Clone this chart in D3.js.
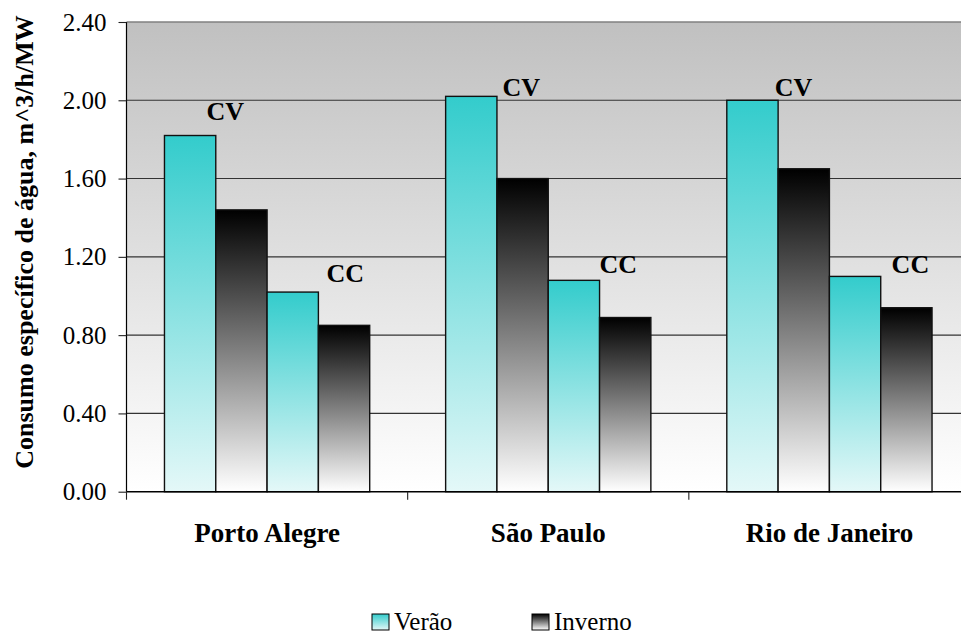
<!DOCTYPE html>
<html>
<head>
<meta charset="utf-8">
<script src="https://cdn.jsdelivr.net/npm/d3@7"></script>
<style>
html,body{margin:0;padding:0;background:#fff;}
svg{display:block;}
</style>
</head>
<body>
<svg id="chart" width="961" height="634"></svg>
<script>
// ---- data ----
const categories = ["Porto Alegre", "São Paulo", "Rio de Janeiro"];
const cvVerao   = [1.82, 2.02, 2.00];
const cvInverno = [1.44, 1.60, 1.65];
const ccVerao   = [1.02, 1.08, 1.10];
const ccInverno = [0.85, 0.89, 0.94];
const yTicks = [0.0, 0.4, 0.8, 1.2, 1.6, 2.0, 2.4];
const seriesNames = ["Verão", "Inverno"];
const yTitle = "Consumo específico de água, m^3/h/MW";
// annotation labels: text, category index, position within band (fraction), value
const annText = ["CV", "CC", "CV", "CC", "CV", "CC"];
const annCat  = [0, 0, 1, 1, 2, 2];
const annFrac = [0.351, 0.778, 0.404, 0.749, 0.372, 0.788];
const annVal  = [1.90, 1.07, 2.02, 1.12, 2.02, 1.12];

(function () {
const FONT = '"Liberation Serif", "Times New Roman", Tinos, serif';
const svg = d3.select("#chart");
const pL = 126.5, pR = 970, pT = 22, pB = 491.7;

const x = d3.scaleBand().domain(categories).range([pL, pR]).paddingInner(0).paddingOuter(0);
const slots = ["CV-Verão", "CV-Inverno", "CC-Verão", "CC-Inverno"];
const xs = d3.scaleBand().domain(slots).range([0, x.bandwidth()]).paddingInner(0).paddingOuter(0.74);
const y = d3.scaleLinear().domain([0, 2.4]).range([pB, pT]);

const defs = svg.append("defs");
const bg = defs.append("linearGradient").attr("id", "bgGrad").attr("x1", 0).attr("y1", 0).attr("x2", 0).attr("y2", 1);
bg.append("stop").attr("offset", "0%").attr("stop-color", "#c0c0c0");
bg.append("stop").attr("offset", "100%").attr("stop-color", "#ffffff");
const gV = defs.append("linearGradient").attr("id", "gVerao").attr("x1", 0).attr("y1", 0).attr("x2", 0).attr("y2", 1);
gV.append("stop").attr("offset", "0%").attr("stop-color", "#33cccc");
gV.append("stop").attr("offset", "100%").attr("stop-color", "#e4f8f8");
const gI = defs.append("linearGradient").attr("id", "gInverno").attr("x1", 0).attr("y1", 0).attr("x2", 0).attr("y2", 1);
gI.append("stop").attr("offset", "0%").attr("stop-color", "#000000");
gI.append("stop").attr("offset", "100%").attr("stop-color", "#ffffff");

// plot background
svg.append("rect").attr("x", pL).attr("y", pT).attr("width", pR - pL).attr("height", pB - pT)
  .attr("fill", "url(#bgGrad)");

// gridlines
svg.append("g").selectAll("line").data(yTicks.filter(d => d > 0)).join("line")
  .attr("x1", pL).attr("x2", pR)
  .attr("y1", d => y(d)).attr("y2", d => y(d))
  .attr("stroke", d => d === 2.4 ? "#808080" : "#333").attr("stroke-width", d => d === 2.4 ? 1.6 : 1.1);

// bars
const barData = [];
categories.forEach((c, i) => {
  barData.push({c, slot: "CV-Verão", v: cvVerao[i], s: 0});
  barData.push({c, slot: "CV-Inverno", v: cvInverno[i], s: 1});
  barData.push({c, slot: "CC-Verão", v: ccVerao[i], s: 0});
  barData.push({c, slot: "CC-Inverno", v: ccInverno[i], s: 1});
});
svg.append("g").selectAll("rect").data(barData).join("rect")
  .attr("x", d => x(d.c) + xs(d.slot))
  .attr("y", d => y(d.v))
  .attr("width", xs.bandwidth())
  .attr("height", d => y(0) - y(d.v))
  .attr("fill", d => d.s === 0 ? "url(#gVerao)" : "url(#gInverno)")
  .attr("stroke", "#111").attr("stroke-width", 1.4);

// y axis
const yAxis = d3.axisLeft(y).tickValues(yTicks).tickFormat(d3.format(".2f")).tickSize(8).tickPadding(12);
const ya = svg.append("g").attr("transform", `translate(${pL},0)`).call(yAxis);
ya.select(".domain").attr("stroke", "#000").attr("stroke-width", 1.2).attr("d", `M0,${pT}V${pB}`);
ya.selectAll(".tick line").attr("stroke", "#222").attr("stroke-width", 1.1);
ya.selectAll(".tick text").style("font-family", FONT).style("font-size", "25px").attr("fill", "#000");

// x axis
svg.append("line").attr("x1", pL).attr("x2", pR).attr("y1", pB).attr("y2", pB)
  .attr("stroke", "#000").attr("stroke-width", 1.5);
const bounds = categories.map(c => x(c)).concat([pR]);
svg.append("g").selectAll("line").data(bounds).join("line")
  .attr("x1", d => d).attr("x2", d => d).attr("y1", pB).attr("y2", pB + 8)
  .attr("stroke", "#222").attr("stroke-width", 1.1);
svg.append("g").selectAll("text").data(categories).join("text")
  .attr("x", d => x(d) + x.bandwidth() / 2).attr("y", 541.7)
  .attr("text-anchor", "middle")
  .style("font-family", FONT).style("font-size", "27px").style("font-weight", "bold")
  .text(d => d);

// annotations
svg.append("g").selectAll("text").data(annText.map((t, i) => ({t, i}))).join("text")
  .attr("x", d => x(categories[annCat[d.i]]) + annFrac[d.i] * x.bandwidth())
  .attr("y", d => y(annVal[d.i]))
  .attr("text-anchor", "middle")
  .style("font-family", FONT).style("font-size", "26px").style("font-weight", "bold")
  .text(d => d.t);

// y title
svg.append("text").attr("transform", "translate(33,242) rotate(-90)")
  .attr("text-anchor", "middle")
  .style("font-family", FONT).style("font-size", "26px").style("font-weight", "bold")
  .text(yTitle);

// legend
const legX = [372, 532];
const lg = svg.append("g").selectAll("g").data(seriesNames).join("g")
  .attr("transform", (d, i) => `translate(${legX[i]},614)`);
lg.append("rect").attr("width", 17).attr("height", 16)
  .attr("fill", (d, i) => i === 0 ? "url(#gVerao)" : "url(#gInverno)")
  .attr("stroke", "#000").attr("stroke-width", 1);
lg.append("text").attr("x", 22).attr("y", 16)
  .style("font-family", FONT).style("font-size", "25px")
  .text(d => d);
})();
</script>
</body>
</html>
